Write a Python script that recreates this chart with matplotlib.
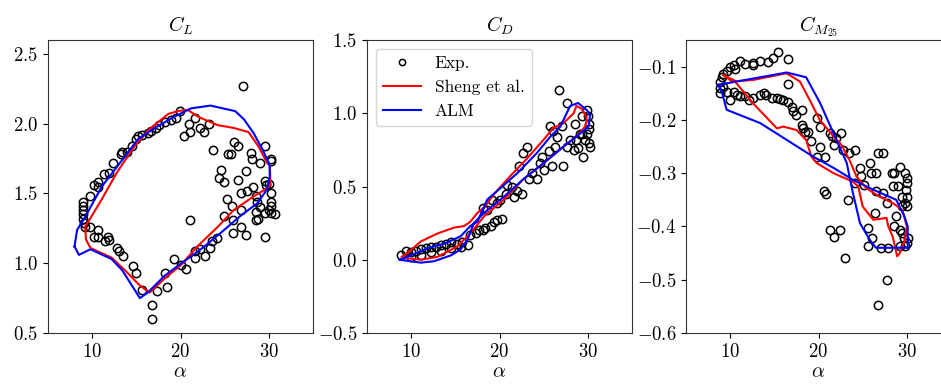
import matplotlib
matplotlib.use("Agg")
import matplotlib.pyplot as plt
import numpy as np

plt.rcParams['font.family'] = 'serif'
plt.rcParams['font.serif'] = ['cmr10']
plt.rcParams['mathtext.fontset'] = 'cm'
plt.rcParams['axes.formatter.use_mathtext'] = True
plt.rcParams['axes.unicode_minus'] = True

# ---- C_L ----
cl_exp_a = [9.0, 9.0, 9.0, 9.0, 9.0, 9.1, 9.2, 9.7, 10.2, 10.7, 10.7, 11.3, 11.9, 12.4, 13.3, 13.4,
            13.9, 14.5, 15.0, 15.2, 15.6, 16.3, 16.7, 17.2, 17.6, 18.2, 18.9, 19.5, 19.9,
            20.4, 21.0, 21.1, 21.6, 22.2, 22.7, 23.2, 23.7, 26.0, 26.5, 25.7, 25.4, 24.6, 24.4,
            24.9, 25.3, 24.9, 27.4, 26.5, 27.1, 28.0, 28.1, 29.0, 29.6, 30.2, 30.3, 29.6, 29.7,
            30.0, 30.2, 30.2, 30.3, 30.0, 30.3, 30.7, 29.6, 29.6, 29.0, 28.7, 28.2, 27.5, 28.5,
            28.6, 28.8, 28.5, 26.9, 26.8, 25.8, 25.9, 26.9, 27.4, 25.9, 24.1, 23.6, 23.3, 22.8,
            22.2, 21.6, 21.6, 20.6, 20.1, 19.3, 18.5, 18.3, 17.3, 16.8, 16.8, 15.6, 15.0, 14.6,
            21.1, 9.7, 10.7, 10.2, 10.7, 11.5, 11.8, 11.9, 12.8, 13.0, 13.5]
cl_exp_c = [1.44, 1.41, 1.38, 1.35, 1.32, 1.29, 1.26, 1.48, 1.56, 1.55, 1.58, 1.64, 1.65, 1.72, 1.78, 1.80,
            1.80, 1.84, 1.89, 1.91, 1.92, 1.93, 1.95, 1.97, 1.99, 2.01, 2.03, 2.04, 2.09,
            1.91, 2.00, 1.94, 2.04, 1.97, 1.94, 2.00, 1.81, 1.87, 1.84, 1.78, 1.78, 1.67, 1.61,
            1.58, 1.46, 1.34, 1.66, 1.60, 2.27, 1.79, 1.75, 1.72, 1.84, 1.75, 1.73, 1.59, 1.56,
            1.57, 1.50, 1.44, 1.41, 1.38, 1.36, 1.35, 1.36, 1.19, 1.40, 1.44, 1.55, 1.52, 1.48,
            1.37, 1.32, 1.31, 1.50, 1.38, 1.41, 1.31, 1.26, 1.20, 1.22, 1.18, 1.16, 1.11, 1.05,
            1.10, 1.09, 1.04, 0.96, 0.99, 1.03, 0.83, 0.93, 0.80, 0.70, 0.60, 0.81, 0.93, 0.98,
            1.31, 1.26, 1.24, 1.19, 1.19, 1.16, 1.19, 1.17, 1.11, 1.09, 1.05]

cl_sheng_a = [9.2, 11.1, 12.8, 14.7, 16.3, 18.6, 19.7, 20.8, 22.0, 24.2, 26.0, 27.7, 28.8, 29.8,
              30.1, 30.2, 29.6, 28.3, 26.0, 24.2, 21.9, 20.1, 18.2, 16.5, 15.4, 13.7, 12.2, 9.8, 9.3, 9.2]
cl_sheng_c = [1.26, 1.46, 1.65, 1.83, 1.95, 2.07, 2.09, 2.10, 2.05, 1.99, 1.97, 1.94, 1.84, 1.72,
              1.70, 1.56, 1.53, 1.48, 1.38, 1.26, 1.12, 0.99, 0.89, 0.79, 0.84, 0.95, 1.04, 1.11, 1.17, 1.26]

cl_alm_a = [8.0, 8.5, 9.8, 12.2, 13.4, 15.4, 16.3, 18.2, 20.1, 22.3, 24.6, 26.8, 28.7, 29.8, 30.1,
            30.1, 29.4, 28.3, 27.2, 26.2, 23.4, 21.2, 19.3, 17.1, 15.2, 13.4, 11.1, 9.1, 8.3, 8.0]
cl_alm_c = [1.12, 1.06, 1.10, 1.03, 0.95, 0.75, 0.79, 0.91, 1.00, 1.10, 1.22, 1.34, 1.43, 1.53, 1.62,
            1.70, 1.80, 1.93, 2.03, 2.09, 2.13, 2.11, 2.05, 1.97, 1.89, 1.74, 1.55, 1.32, 1.24, 1.12]

# ---- C_D ----
cd_exp_a = [8.9, 9.4, 10.0, 10.6, 11.1, 11.7, 12.2, 12.8, 13.4, 13.9, 14.5, 15.2, 15.8, 16.4,
            10.0, 11.1, 12.2, 13.4, 14.5, 15.6,
            16.7, 17.3, 17.7, 18.1, 18.4, 19.0, 19.4, 19.7, 20.3, 18.1, 18.6, 19.2, 19.7, 20.1,
            20.7, 20.9, 21.4, 21.6, 22.0, 22.2, 22.6, 22.7, 23.1, 23.3, 23.7, 24.3, 24.6, 24.8,
            25.0, 25.6, 25.7, 25.9, 26.1, 26.3, 26.5, 26.7, 27.1, 27.2, 27.6, 27.6, 28.0, 28.4,
            28.6, 28.7, 28.9, 29.1, 29.3, 29.5, 29.7, 29.9, 29.9, 30.1, 30.1, 30.0, 30.2, 30.1, 29.3]
cd_exp_c = [0.03, 0.06, 0.05, 0.06, 0.07, 0.08, 0.09, 0.09, 0.10, 0.11, 0.12, 0.11, 0.12, 0.10,
            0.02, 0.03, 0.05, 0.06, 0.08, 0.09,
            0.17, 0.18, 0.20, 0.20, 0.22, 0.23, 0.26, 0.27, 0.28, 0.35, 0.34, 0.41, 0.39, 0.41,
            0.45, 0.51, 0.50, 0.43, 0.47, 0.64, 0.45, 0.73, 0.77, 0.55, 0.59, 0.55, 0.66, 0.70,
            0.61, 0.74, 0.91, 0.64, 0.88, 0.77, 0.84, 1.16, 0.91, 0.64, 1.07, 0.77, 0.82, 0.75,
            0.93, 0.82, 0.76, 0.86, 0.98, 0.70, 0.82, 1.02, 0.86, 0.80, 0.93, 0.98, 0.77, 0.89, 0.86]

cd_sheng_a = [9.25, 11.1, 13.0, 14.9, 16.0, 16.7, 17.5, 18.3, 19.4, 21.2, 23.1, 25.0, 26.1, 27.2,
              28.4, 28.7, 29.3, 29.7, 29.9, 29.7, 28.7, 27.2, 25.0, 22.7, 20.5, 18.3, 16.7, 15.2,
              13.0, 11.1, 9.6, 8.9, 9.25]
cd_sheng_c = [0.03, 0.125, 0.18, 0.22, 0.23, 0.26, 0.32, 0.36, 0.45, 0.57, 0.69, 0.82, 0.90, 0.93,
              1.00, 1.05, 1.03, 0.99, 0.95, 0.91, 0.84, 0.77, 0.66, 0.55, 0.41, 0.30, 0.18, 0.09,
              0.02, 0.00, 0.01, 0.02, 0.03]

cd_alm_a = [8.7, 10.0, 11.9, 13.75, 15.6, 16.7, 17.5, 18.6, 19.75, 22.0, 24.25, 25.75, 26.9, 27.6,
            28.0, 28.9, 29.9, 30.25, 30.1, 29.1, 27.2, 25.0, 22.7, 20.5, 18.25, 17.1, 16.4, 15.6,
            14.5, 12.6, 11.1, 8.7]
cd_alm_c = [0.0, 0.03, 0.08, 0.11, 0.16, 0.23, 0.26, 0.41, 0.47, 0.59, 0.73, 0.84, 0.91, 1.00,
            1.05, 1.07, 1.02, 0.99, 0.91, 0.86, 0.77, 0.66, 0.55, 0.43, 0.32, 0.25, 0.14, 0.07,
            0.03, -0.01, -0.02, 0.0]

# ---- C_M25 ----
cm_exp_a = [8.9, 8.9, 8.9, 9.1, 9.2, 9.6, 10.0, 10.4, 10.6, 11.1, 11.7, 12.6, 12.6, 13.4, 14.3, 14.8,
            15.45, 16.5, 16.6,
            9.2, 9.6, 10.0, 10.4, 10.75, 11.1, 11.7, 12.1, 12.6, 13.4, 13.8, 14.1, 14.7, 15.3, 15.6,
            16.0, 16.6, 17.0, 17.1, 17.5, 18.1, 18.1, 18.3, 18.5, 18.8, 19.2, 19.8, 20.2, 20.2, 19.8,
            20.7, 20.6, 20.9, 21.3, 21.5, 21.8, 22.0, 22.6, 21.3, 21.8, 22.4, 23.0, 22.8, 23.5, 24.1,
            23.3, 24.1, 24.7, 24.85, 25.2, 25.8, 26.0, 26.5, 26.7, 26.5, 25.6, 26.1, 25.6, 26.4, 27.3,
            27.7, 28.3, 28.4, 28.6, 29.0, 29.2, 29.4, 29.8, 30.0, 30.0, 29.9, 30.0, 29.8, 30.0, 28.8,
            28.6, 29.2, 29.5, 29.7, 30.0, 29.8, 30.1, 29.2, 27.1, 27.3, 27.7, 26.7, 27.9, 29.4]
cm_exp_c = [-0.128, -0.14, -0.15, -0.119, -0.113, -0.109, -0.100, -0.097, -0.105, -0.089, -0.095, -0.097,
            -0.094, -0.089, -0.092, -0.083, -0.072, -0.085, -0.133,
            -0.1375, -0.147, -0.1625, -0.147, -0.153, -0.156, -0.156, -0.1625, -0.159, -0.153, -0.150,
            -0.153, -0.159, -0.159, -0.161, -0.1625, -0.166, -0.175, -0.184, -0.190, -0.181, -0.209,
            -0.216, -0.222, -0.222, -0.240, -0.197, -0.2125, -0.250, -0.269, -0.269, -0.334, -0.340,
            -0.225, -0.231, -0.247, -0.234, -0.225, -0.406, -0.419, -0.406, -0.459, -0.256, -0.2625,
            -0.256, -0.350, -0.319, -0.290, -0.306, -0.322, -0.281, -0.300, -0.300, -0.2625, -0.334,
            -0.403, -0.422, -0.4375, -0.375, -0.3375, -0.356, -0.300, -0.325, -0.300, -0.325, -0.2875,
            -0.344, -0.300, -0.309, -0.319, -0.331, -0.344, -0.356, -0.3625, -0.381, -0.400, -0.406,
            -0.4125, -0.422, -0.431, -0.4375, -0.422, -0.4375, -0.440, -0.2625, -0.500, -0.547, -0.440,
            -0.3625]

cm_sheng_a = [9.2, 9.4, 10.2, 12.6, 16.4, 17.9, 19.0, 20.15, 21.7, 22.6, 23.5, 24.3, 25.4, 26.9, 28.4,
              29.5, 30.0, 29.8, 29.2, 28.9, 28.4, 27.9, 27.7, 26.2, 25.0, 24.5, 23.9, 21.7, 19.8, 19.2,
              18.6, 17.5, 16.0, 15.3, 12.6, 10.4, 9.2]
cm_sheng_c = [-0.116, -0.1175, -0.128, -0.125, -0.1125, -0.128, -0.1625, -0.200, -0.231, -0.247, -0.275,
              -0.306, -0.328, -0.344, -0.356, -0.369, -0.400, -0.425, -0.450, -0.456, -0.419, -0.400,
              -0.384, -0.3875, -0.3625, -0.325, -0.316, -0.300, -0.281, -0.269, -0.2375, -0.219,
              -0.2125, -0.216, -0.169, -0.125, -0.116]

cm_alm_a = [8.7, 16.4, 18.6, 20.2, 21.7, 23.2, 23.9, 24.7, 25.8, 26.5, 27.7, 30.1, 30.1, 29.7, 28.8,
            26.2, 23.9, 21.7, 19.4, 16.4, 13.4, 9.6, 9.1, 8.7]
cm_alm_c = [-0.134, -0.111, -0.120, -0.169, -0.225, -0.281, -0.3375, -0.394, -0.425, -0.440, -0.440,
            -0.440, -0.400, -0.380, -0.350, -0.331, -0.3125, -0.290, -0.269, -0.2375, -0.206, -0.181,
            -0.150, -0.134]

panels = [
    (r'$C_L$', cl_exp_a, cl_exp_c, cl_sheng_a, cl_sheng_c, cl_alm_a, cl_alm_c, (0.5, 2.6),
     [0.5, 1.0, 1.5, 2.0, 2.5]),
    (r'$C_D$', cd_exp_a, cd_exp_c, cd_sheng_a, cd_sheng_c, cd_alm_a, cd_alm_c, (-0.5, 1.5),
     [-0.5, 0.0, 0.5, 1.0, 1.5]),
    (r'$C_{M_{25}}$', cm_exp_a, cm_exp_c, cm_sheng_a, cm_sheng_c, cm_alm_a, cm_alm_c, (-0.6, -0.05),
     [-0.6, -0.5, -0.4, -0.3, -0.2, -0.1]),
]

W, H = 941, 392
fig = plt.figure(figsize=(W / 100, H / 100), dpi=100)
lefts = [48, 367, 686]
for i, (title, ea, ec, sa, sc, aa, ac, ylim, yt) in enumerate(panels):
    ax = fig.add_axes([lefts[i] / W, 1 - 333 / H, 265 / W, 293 / H])
    ax.plot(ea, ec, 'o', mfc='none', mec='k', mew=1.1, ms=6, label='Exp.')
    ax.plot(sa, sc, '-', color='red', lw=1.5, label='Sheng et al.')
    ax.plot(aa, ac, '-', color='blue', lw=1.5, label='ALM')
    ax.set_xlim(5, 35)
    ax.set_ylim(*ylim)
    ax.set_xticks([10, 20, 30])
    ax.set_yticks(yt)
    ax.tick_params(labelsize=13.5)
    for sp in ax.spines.values():
        sp.set_color('#333333')
    ax.set_title(title, fontsize=14.5)
    ax.set_xlabel(r'$\alpha$', fontsize=14.5, labelpad=2)
    if i == 1:
        ax.legend(loc='upper left', fontsize=12.5, numpoints=1, handlelength=2.2,
                  markerscale=0.75)

fig.savefig('out.png', dpi=100)
